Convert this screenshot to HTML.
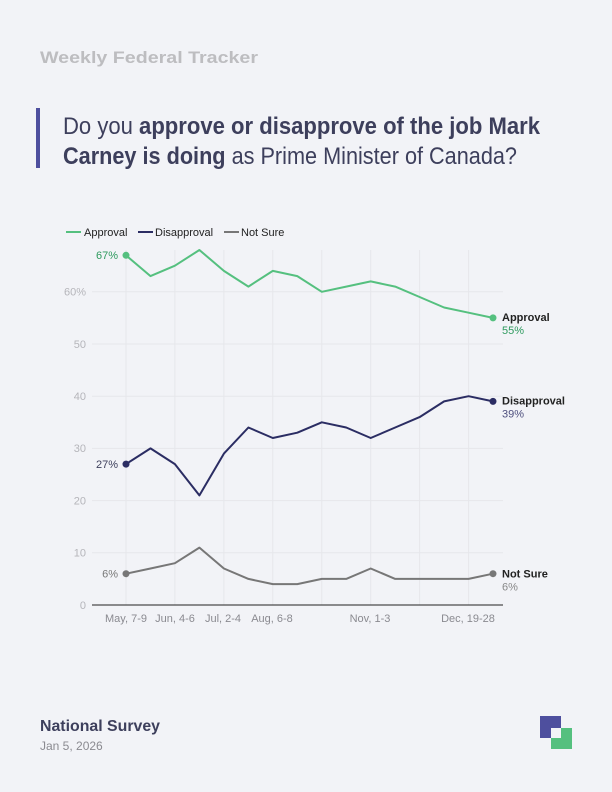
<!DOCTYPE html>
<html><head><meta charset="utf-8"><style>
html,body{margin:0;padding:0;background:#f2f3f7;}
svg{display:block;font-family:"Liberation Sans",sans-serif;}
</style></head><body>
<svg width="612" height="792" viewBox="0 0 612 792">
<rect width="612" height="792" fill="#f2f3f7"/>
<text x="40" y="63" font-size="17" font-weight="bold" fill="#bdbdc0" textLength="218" lengthAdjust="spacingAndGlyphs">Weekly Federal Tracker</text>
<rect x="36" y="108" width="4" height="60" fill="#4e4f9e"/>
<text x="63" y="134" font-size="24" fill="#3d3f5c" textLength="477" lengthAdjust="spacingAndGlyphs">Do you <tspan font-weight="bold">approve or disapprove of the job Mark</tspan></text>
<text x="63" y="164" font-size="24" fill="#3d3f5c" textLength="454" lengthAdjust="spacingAndGlyphs"><tspan font-weight="bold">Carney is doing</tspan> as Prime Minister of Canada?</text>
<!-- legend -->
<g font-size="11" fill="#222">
<line x1="66" y1="232" x2="81" y2="232" stroke="#55c07f" stroke-width="2"/><text x="84" y="236">Approval</text>
<line x1="138" y1="232" x2="153" y2="232" stroke="#2b2d63" stroke-width="2"/><text x="155" y="236">Disapproval</text>
<line x1="224" y1="232" x2="239" y2="232" stroke="#777" stroke-width="2"/><text x="241" y="236">Not Sure</text>
</g>
<!-- grid -->
<g stroke="#e6e7eb" stroke-width="1">
<line x1="92" y1="291.8" x2="503" y2="291.8"/><line x1="92" y1="344" x2="503" y2="344"/>
<line x1="92" y1="396.2" x2="503" y2="396.2"/><line x1="92" y1="448.4" x2="503" y2="448.4"/>
<line x1="92" y1="500.6" x2="503" y2="500.6"/><line x1="92" y1="552.8" x2="503" y2="552.8"/>
<line x1="126" y1="250" x2="126" y2="605"/><line x1="174.9" y1="250" x2="174.9" y2="605"/>
<line x1="223.9" y1="250" x2="223.9" y2="605"/><line x1="272.8" y1="250" x2="272.8" y2="605"/>
<line x1="321.8" y1="250" x2="321.8" y2="605"/><line x1="370.7" y1="250" x2="370.7" y2="605"/>
<line x1="419.6" y1="250" x2="419.6" y2="605"/><line x1="468.6" y1="250" x2="468.6" y2="605"/>
</g>
<line x1="92" y1="605" x2="503" y2="605" stroke="#222" stroke-width="1"/>
<g font-size="11" fill="#b5b5ba" text-anchor="end">
<text x="86" y="295.5">60%</text><text x="86" y="348">50</text><text x="86" y="400">40</text>
<text x="86" y="452">30</text><text x="86" y="504.5">20</text><text x="86" y="556.5">10</text><text x="86" y="609">0</text>
</g>
<g font-size="11" fill="#8a8a90" text-anchor="middle">
<text x="126" y="622">May, 7-9</text><text x="175" y="622">Jun, 4-6</text><text x="223" y="622">Jul, 2-4</text>
<text x="272" y="622">Aug, 6-8</text><text x="370" y="622">Nov, 1-3</text><text x="468" y="622">Dec, 19-28</text>
</g>
<g fill="none" stroke-width="2" stroke-linejoin="round">
<polyline stroke="#55c07f" points="126,255.3 150.5,276.1 174.9,265.7 199.4,250 223.9,270.9 248.4,286.6 272.8,270.9 297.3,276.1 321.8,291.8 346.2,286.6 370.7,281.4 395.2,286.6 419.6,297 444.1,307.5 468.6,312.7 493,317.9"/>
<polyline stroke="#2b2d63" points="126,464.1 150.5,448.4 174.9,464.1 199.4,495.4 223.9,453.6 248.4,427.5 272.8,438 297.3,432.7 321.8,422.3 346.2,427.5 370.7,438 395.2,427.5 419.6,417.1 444.1,401.4 468.6,396.2 493,401.4"/>
<polyline stroke="#777" points="126,573.7 150.5,568.5 174.9,563.2 199.4,547.6 223.9,568.5 248.4,578.9 272.8,584.1 297.3,584.1 321.8,578.9 346.2,578.9 370.7,568.5 395.2,578.9 419.6,578.9 444.1,578.9 468.6,578.9 493,573.7"/>
</g>
<circle cx="126" cy="255.3" r="3.5" fill="#55c07f"/><circle cx="493" cy="317.9" r="3.5" fill="#55c07f"/>
<circle cx="126" cy="464.1" r="3.5" fill="#2b2d63"/><circle cx="493" cy="401.4" r="3.5" fill="#2b2d63"/>
<circle cx="126" cy="573.7" r="3.5" fill="#777"/><circle cx="493" cy="573.7" r="3.5" fill="#777"/>
<g font-size="11" text-anchor="end">
<text x="118" y="259" fill="#2e9a5e">67%</text>
<text x="118" y="468" fill="#3d3f5c">27%</text>
<text x="118" y="577.5" fill="#777">6%</text>
</g>
<g font-size="11">
<text x="502" y="321" font-weight="bold" fill="#222">Approval</text><text x="502" y="334" fill="#2e9a5e">55%</text>
<text x="502" y="404.5" font-weight="bold" fill="#222">Disapproval</text><text x="502" y="417.5" fill="#4e4f7e">39%</text>
<text x="502" y="577.5" font-weight="bold" fill="#222">Not Sure</text><text x="502" y="590.5" fill="#888">6%</text>
</g>
<text x="40" y="731" font-size="16" font-weight="bold" fill="#3d3f5c" textLength="120" lengthAdjust="spacingAndGlyphs">National Survey</text>
<text x="40" y="750" font-size="12" fill="#8a8a90">Jan 5, 2026</text>
<rect x="540" y="716" width="21" height="22" fill="#4e4f9e"/>
<rect x="551" y="728" width="21" height="21" fill="#55c07f"/>
<rect x="551" y="728" width="10" height="10" fill="#f2f3f7"/>
</svg>
</body></html>
